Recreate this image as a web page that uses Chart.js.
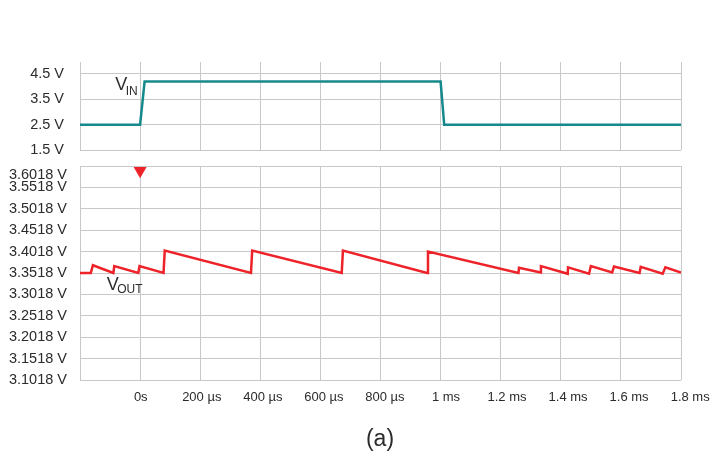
<!DOCTYPE html>
<html>
<head>
<meta charset="utf-8">
<script src="https://cdn.jsdelivr.net/npm/chart.js@4"></script>
<style>
html,body{margin:0;padding:0;background:#fff;}
#wrap{position:relative;width:712px;height:457px;overflow:hidden;}
canvas{position:absolute;left:0;top:0;}
#cap{position:absolute;left:0;width:760px;top:425px;text-align:center;font:23px "Liberation Sans",Arial,sans-serif;color:#2b2b2b;}
</style>
</head>
<body>
<div id="wrap">
  <canvas id="topChart" width="712" height="180"></canvas>
  <canvas id="botChart" width="712" height="457"></canvas>
  <div id="cap">(a)</div>
</div>
<script>
// time axis, in µs
const X_TICKS = [-200, 0, 200, 400, 600, 800, 1000, 1200, 1400, 1600, 1800];
const X_LABELS = ['', '0s', '200 µs', '400 µs', '600 µs', '800 µs', '1 ms', '1.2 ms', '1.4 ms', '1.6 ms', '1.8 ms'];

// top panel: input voltage
const VIN_TICKS = [1.5, 2.5, 3.5, 4.5];
const VIN_LABELS = ['1.5 V', '2.5 V', '3.5 V', '4.5 V'];
const VIN_T = [-200, 0, 15, 1000, 1012, 1800];
const VIN_V = [2.5, 2.5, 4.2, 4.2, 2.5, 2.5];

// bottom panel: output voltage
const VOUT_TICKS = [3.1018, 3.1518, 3.2018, 3.2518, 3.3018, 3.3518, 3.4018, 3.4518, 3.5018, 3.5518, 3.6018];
const VOUT_LABELS = ['3.1018 V', '3.1518 V', '3.2018 V', '3.2518 V', '3.3018 V', '3.3518 V', '3.4018 V', '3.4518 V', '3.5018 V', '3.5518 V', '3.6018 V'];
const VOUT_T = [-200, -164, -157, -89, -86, -6, -2, 78, 82, 369, 373, 671, 675, 955, 958, 1259, 1261, 1333, 1334, 1423, 1424, 1494, 1500, 1571, 1577, 1662, 1666, 1739, 1748, 1800];
const VOUT_V = [3.352, 3.352, 3.370, 3.352, 3.368, 3.352, 3.368, 3.352, 3.404, 3.352, 3.404, 3.352, 3.404, 3.352, 3.402, 3.352, 3.364, 3.353, 3.368, 3.350, 3.365, 3.350, 3.368, 3.353, 3.367, 3.352, 3.366, 3.350, 3.365, 3.353];
const TRIGGER_T = [0];
const TRIGGER_V = [3.5906];

const TEAL = '#16898d';
const RED = '#ee2229';
const GRID = '#c8c8c8';
const TEXT = '#2b2b2b';
const FONT = '"Liberation Sans", Arial, sans-serif';

Chart.defaults.font.family = FONT;
Chart.defaults.color = TEXT;

function pts(ts, vs){ return ts.map((t, i) => ({x: t, y: vs[i]})); }

// draws "V" with a subscript next to a data position
const subLabels = {
  id: 'subLabels',
  afterDatasetsDraw(chart, args, opts){
    const {ctx, scales: {x, y}} = chart;
    (opts.items || []).forEach(it => {
      const px = x.getPixelForValue(it.t), py = y.getPixelForValue(it.v);
      ctx.save();
      ctx.fillStyle = TEXT;
      ctx.textBaseline = 'alphabetic';
      ctx.font = '18px ' + FONT;
      ctx.fillText(it.main, px, py);
      const w = ctx.measureText(it.main).width;
      ctx.font = '12px ' + FONT;
      ctx.fillText(it.sub, px + w - 1.5, py + it.drop);
      ctx.restore();
    });
  }
};

// keep the time axes from pushing the plot area around
function fixX(s, h){ s.height = h; s.paddingLeft = 0; s.paddingRight = 0; }

// grid-only time axis
function xGrid(h){
  return {
    type: 'linear', min: -200, max: 1800,
    afterBuildTicks: s => { s.ticks = X_TICKS.map(v => ({value: v})); },
    afterFit: s => fixX(s, h),
    grid: {color: GRID, lineWidth: 1, drawTicks: false},
    border: {display: false},
    ticks: {display: false}
  };
}

// label-only time axis (the original spaces its labels slightly wider than the grid)
const xLabelAxis = {
  type: 'linear', position: 'bottom', min: -199, max: 1770,
  afterBuildTicks: s => { s.ticks = X_TICKS.map(v => ({value: v})); },
  afterFit: s => fixX(s, 77),
  grid: {display: false, drawTicks: false},
  border: {display: false},
  ticks: {
    padding: 10, maxRotation: 0, autoSkip: false, font: {size: 13},
    callback: (v, i) => X_LABELS[i]
  }
};

function yScale(min, max, ticks, labels, pad){
  return {
    min: min, max: max,
    afterBuildTicks: s => { s.ticks = ticks.map(v => ({value: v})); },
    afterFit: s => { s.width = 80; },
    grid: {color: GRID, lineWidth: 1, drawTicks: false},
    border: {display: true, color: GRID},
    ticks: {
      padding: pad, autoSkip: false, font: {size: 14.5},
      callback: (v, i) => (i === labels.length - 1 && max === ticks[ticks.length - 1]) ? ['', labels[i]] : labels[i]
    }
  };
}

new Chart(document.getElementById('topChart'), {
  type: 'line',
  data: {
    datasets: [{
      data: pts(VIN_T, VIN_V), borderColor: TEAL, borderWidth: 2.5,
      pointRadius: 0, tension: 0, fill: false
    }]
  },
  options: {
    responsive: false, animation: false,
    layout: {padding: {top: 62, right: 31, bottom: 0, left: 0}},
    plugins: {
      legend: {display: false}, tooltip: {enabled: false},
      subLabels: {items: [{t: -83, v: 3.868, main: 'V', sub: 'IN', drop: 5}]}
    },
    scales: {x: xGrid(30), y: yScale(1.5, 4.97, VIN_TICKS, VIN_LABELS, 16)}
  },
  plugins: [subLabels]
});

new Chart(document.getElementById('botChart'), {
  type: 'line',
  data: {
    datasets: [{
      data: pts(VOUT_T, VOUT_V), borderColor: RED, borderWidth: 2.5,
      pointRadius: 0, tension: 0, fill: false
    }, {
      data: pts(TRIGGER_T, TRIGGER_V), showLine: false,
      pointStyle: 'triangle', rotation: 180, pointRadius: 7.5,
      pointBackgroundColor: RED, pointBorderWidth: 0, clip: false
    }]
  },
  options: {
    responsive: false, animation: false,
    layout: {padding: {top: 166, right: 31, bottom: 0, left: 0}},
    plugins: {
      legend: {display: false}, tooltip: {enabled: false},
      subLabels: {items: [{t: -111, v: 3.3132, main: 'V', sub: 'OUT', drop: 3.5}]}
    },
    scales: {x: xGrid(0), xl: xLabelAxis, y: yScale(3.1018, 3.6018, VOUT_TICKS, VOUT_LABELS, 13)}
  },
  plugins: [subLabels]
});
</script>
</body>
</html>
